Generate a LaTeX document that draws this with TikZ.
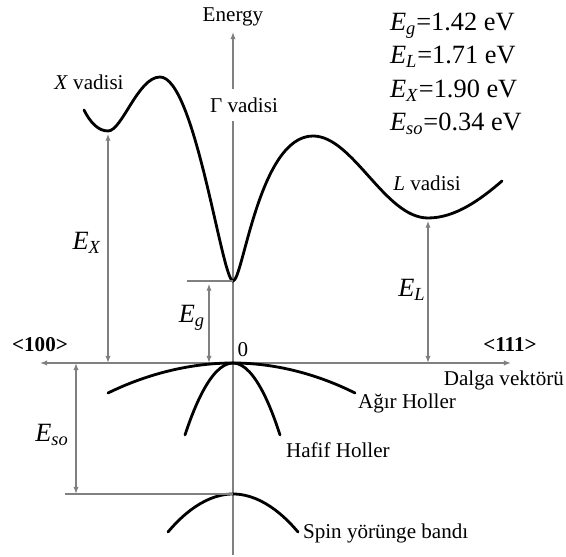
\documentclass[tikz,border=0pt]{standalone}
\usepackage{fontspec}
\setmainfont{Liberation Serif}
\usetikzlibrary{arrows.meta, positioning}
\newcommand{\Esub}[1]{\textit{E}\textsubscript{\textit{#1}}}

\begin{document}
\begin{tikzpicture}[
  x=0.02cm, y=-0.02cm,
  axis/.style={draw=black!50, line width=0.8pt},
  tip/.style={-{Latex[length=4pt,width=3pt]}},
  gap/.style={axis, {Latex[length=4pt,width=3pt]}-{Latex[length=4pt,width=3pt]}},
  band/.style={line width=1.6pt, line cap=round},
  lbl/.style={font=\fontsize{12}{14}\selectfont, inner sep=1pt},
  big/.style={font=\fontsize{15}{19}\selectfont, inner sep=1pt}
]
  \useasboundingbox (0,0) rectangle (566,557);

  % axes
  \coordinate (o)    at (233,363);
  \coordinate (ytop) at (233,32);
  \coordinate (ybot) at (233,555);
  \coordinate (xl)   at (40,363);
  \coordinate (xr)   at (511,363);
  \draw[axis, tip] (ybot) -- (ytop);
  \draw[gap] (xl) -- (xr);

  % band extrema
  \coordinate (xmin) at (108,131);
  \coordinate (xmax) at (160,77);
  \coordinate (gmin) at (233,281);
  \coordinate (lmax) at (313,136);
  \coordinate (lmin) at (428,218);
  \coordinate (gl)   at (187,281);
  \coordinate (eg)   at (209,281);
  \coordinate (so)   at (233,494);
  \coordinate (sol)  at (65,494);
  \coordinate (esot) at (76,363);

  % conduction band
  \draw[band] (84,110) .. controls (90,122) and (98,131) .. (xmin)
    .. controls (122,131) and (138,77) .. (xmax)
    .. controls (195,77) and (222,281) .. (gmin)
    .. controls (243,281) and (259,136) .. (lmax)
    .. controls (353,136) and (385,218) .. (lmin)
    .. controls (455,218) and (480,200) .. (502,181);

  % valence bands
  \draw[band] (108,393) parabola bend (o) (355,393);
  \draw[band] (185,435) parabola bend (o) (280,435);
  \draw[band] (168,532) parabola bend (so) (298,532);

  % levels and gaps
  \draw[axis] (gl) -- (gmin);
  \draw[axis] (sol) -- (so);
  \draw[gap, shorten <=1.5pt] (xmin) -- (xmin |- o);
  \draw[gap, shorten <=1.5pt] (eg) -- (eg |- o);
  \draw[gap, shorten <=1.5pt] (lmin) -- (lmin |- o);
  \draw[gap] (esot) -- (esot |- so);

  % labels
  \node[lbl, above=2pt of ytop] (energy) {Energy};
  \node[lbl, fill=white, inner ysep=5pt] (gv) at (244,105) {Γ vadisi};
  \node[lbl] (xv) at (89,82) {\textit{X} vadisi};
  \node[lbl] (lv) at (427,183) {\textit{L} vadisi};
  \node[big] (ex) at (87,243) {\Esub{X}};
  \node[big] (egl) at (192,318) {\Esub{g}};
  \node[big] (el) at (412,290) {\Esub{L}};
  \node[big] (eso) at (52,435) {\Esub{so}};
  \node[big, anchor=north west, align=left] (vals) at (388,11)
    {\Esub{g}=1.42 eV\\ \Esub{L}=1.71 eV\\ \Esub{X}=1.90 eV\\ \Esub{so}=0.34 eV};
  \node[lbl, font=\fontsize{12}{14}\selectfont\bfseries] (d100) at (40,345) {<100>};
  \node[lbl, font=\fontsize{12}{14}\selectfont\bfseries] (d111) at (510,345) {<111>};
  \node[lbl] (zero) at (243,350) {0};
  \node[lbl, anchor=east] (dv) at (566,380) {Dalga vektörü};
  \node[lbl, anchor=west] (ah) at (356,403) {Ağır Holler};
  \node[lbl, anchor=west] (hh) at (284,450) {Hafif Holler};
  \node[lbl, anchor=west] (sp) at (301,533) {Spin yörünge bandı};
\end{tikzpicture}
\end{document}
